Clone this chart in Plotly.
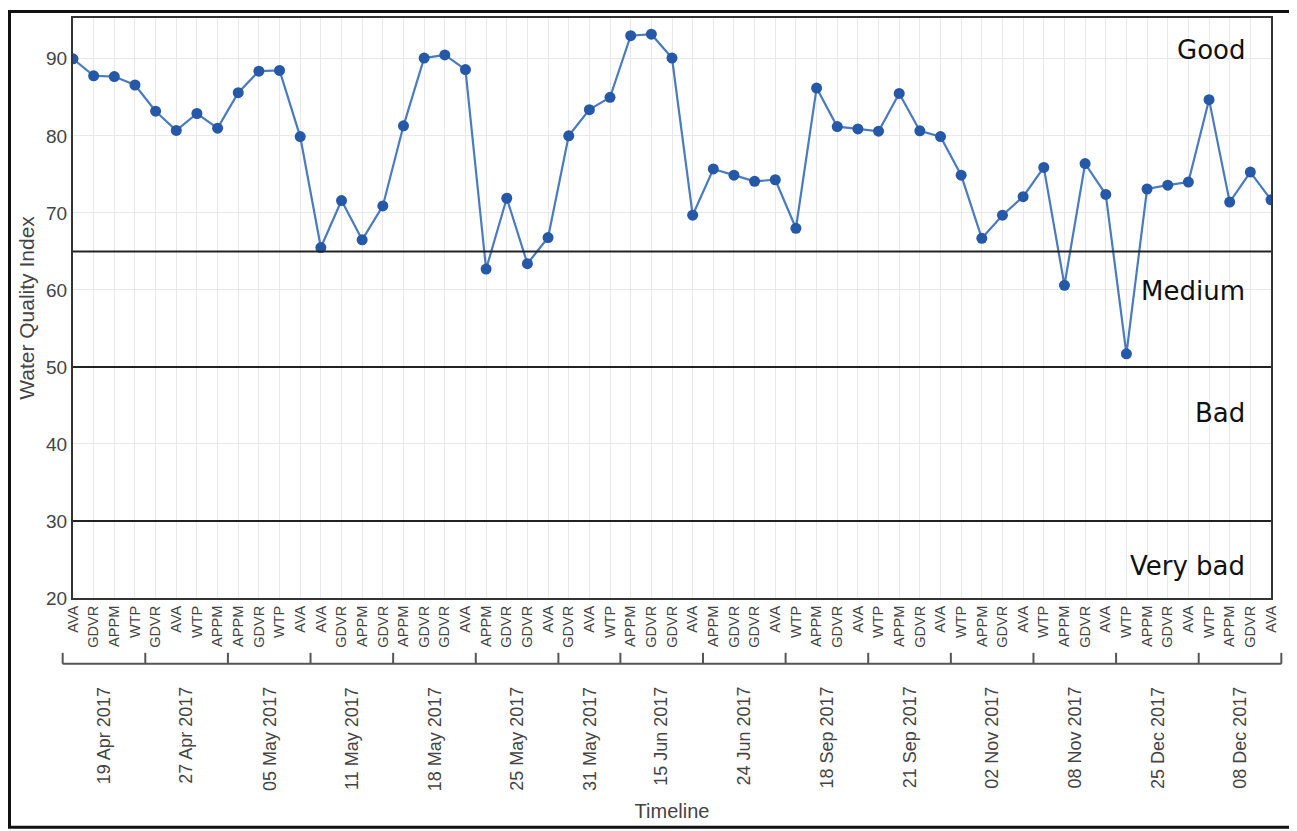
import plotly.graph_objects as go

# sampling dates (one group of sites per date)
dates = ["19 Apr 2017", "27 Apr 2017", "05 May 2017", "11 May 2017", "18 May 2017",
         "25 May 2017", "31 May 2017", "15 Jun 2017", "24 Jun 2017", "18 Sep 2017",
         "21 Sep 2017", "02 Nov 2017", "08 Nov 2017", "25 Dec 2017", "08 Dec 2017"]

site_groups = [
    ["AVA", "GDVR", "APPM", "WTP"],
    ["GDVR", "AVA", "WTP", "APPM"],
    ["APPM", "GDVR", "WTP", "AVA"],
    ["AVA", "GDVR", "APPM", "GDVR"],
    ["APPM", "GDVR", "GDVR", "AVA"],
    ["APPM", "GDVR", "GDVR", "AVA"],
    ["GDVR", "AVA", "WTP"],
    ["APPM", "GDVR", "GDVR", "AVA"],
    ["APPM", "GDVR", "GDVR", "AVA"],
    ["WTP", "APPM", "GDVR", "AVA"],
    ["WTP", "APPM", "GDVR", "AVA"],
    ["WTP", "APPM", "GDVR", "AVA"],
    ["WTP", "APPM", "GDVR", "AVA"],
    ["WTP", "APPM", "GDVR", "AVA"],
    ["WTP", "APPM", "GDVR", "AVA"],
]

wqi = [90.0, 87.8, 87.7, 86.6,
       83.2, 80.7, 82.9, 81.0,
       85.6, 88.4, 88.5, 79.9,
       65.5, 71.6, 66.5, 70.9,
       81.3, 90.1, 90.5, 88.6,
       62.7, 71.9, 63.4, 66.8,
       80.0, 83.4, 85.0,
       93.0, 93.2, 90.1, 69.7,
       75.7, 74.9, 74.1, 74.3,
       68.0, 86.2, 81.2, 80.9,
       80.6, 85.5, 80.65, 79.9,
       74.9, 66.7, 69.7, 72.1,
       75.9, 60.6, 76.4, 72.4,
       51.7, 73.1, 73.6, 74.0,
       84.7, 71.4, 75.3, 71.7]

thresholds = [65, 50, 30]
classes = ["Good", "Medium", "Bad", "Very bad"]
class_label_y = [91.1, 59.8, 44.0, 24.2]

sites = [s for g in site_groups for s in g]
xs = list(range(len(sites)))

# page body adds an 8px margin, so the figure is a bit smaller than the window
W, H = 1289, 823
ML, MR, MT, MB = 65, 26, 8, 233
pw, ph = W - ML - MR, H - MT - MB
x_range = [0, len(sites) - 1]


def to_paper_x(v):
    return (v - x_range[0]) / (x_range[1] - x_range[0])


def px_to_paper_y(py):
    return (MT + ph - py) / ph


fig = go.Figure()
fig.add_trace(go.Scatter(
    x=xs, y=wqi, mode="lines+markers",
    line=dict(color="#4a7bc0", width=2.2),
    marker=dict(color="#2559a8", size=11),
    showlegend=False,
))

shapes = []
for t in thresholds:
    shapes.append(dict(type="line", xref="paper", yref="y", x0=0, x1=1, y0=t, y1=t,
                       line=dict(color="#222", width=2)))

# bracket under the site labels, one tick per date boundary
bracket_top = px_to_paper_y(645)
bracket_bot = px_to_paper_y(656)
bounds = [-0.5]
for g in site_groups:
    bounds.append(bounds[-1] + len(g))
shapes.append(dict(type="line", xref="paper", yref="paper",
                   x0=to_paper_x(bounds[0]), x1=to_paper_x(bounds[-1]),
                   y0=bracket_bot, y1=bracket_bot, line=dict(color="#555", width=2)))
for b in bounds:
    shapes.append(dict(type="line", xref="paper", yref="paper",
                       x0=to_paper_x(b), x1=to_paper_x(b),
                       y0=bracket_top, y1=bracket_bot, line=dict(color="#555", width=2)))

# frame around the whole picture
shapes.append(dict(type="rect", xref="paper", yref="paper",
                   x0=(1.5 - ML) / pw, x1=(W - 4 - ML) / pw,
                   y0=px_to_paper_y(H - 3), y1=px_to_paper_y(1.5),
                   line=dict(color="#111", width=3)))

annotations = []
start = 0
for d, g in zip(dates, site_groups):
    center = start + (len(g) - 1) / 2
    annotations.append(dict(x=center, y=px_to_paper_y(677), xref="x", yref="paper",
                            text=d, textangle=-90, showarrow=False,
                            xanchor="center", yanchor="top",
                            font=dict(family="Liberation Sans", size=18, color="#444")))
    start += len(g)

for c, yv in zip(classes, class_label_y):
    annotations.append(dict(x=(1239 - ML) / pw, y=yv, xref="paper", yref="y",
                            text=c, showarrow=False, xanchor="right", yanchor="middle",
                            font=dict(family="DejaVu Sans", size=26, color="#111")))

fig.update_layout(
    width=W, height=H,
    margin=dict(l=ML, r=MR, t=MT, b=MB),
    paper_bgcolor="white", plot_bgcolor="white",
    font=dict(family="Liberation Sans", color="#444"),
    shapes=shapes, annotations=annotations,
    xaxis=dict(
        range=x_range, tickmode="array", tickvals=xs, ticktext=sites,
        tickangle=-90, tickfont=dict(size=14.5),
        showgrid=True, gridcolor="#e9e9e9", zeroline=False,
        showline=True, linecolor="#333", linewidth=2, mirror=True,
        ticks="", ticklen=0,
        title=dict(text="Timeline", font=dict(size=20), standoff=157),
    ),
    yaxis=dict(
        range=[20, 95.3], dtick=10, tickfont=dict(size=19),
        showgrid=True, gridcolor="#e9e9e9", zeroline=False,
        showline=True, linecolor="#333", linewidth=2, mirror=True,
        ticks="", ticklen=0,
        title=dict(text="Water Quality Index", font=dict(size=21), standoff=6),
    ),
)

fig.write_html("out.html")
